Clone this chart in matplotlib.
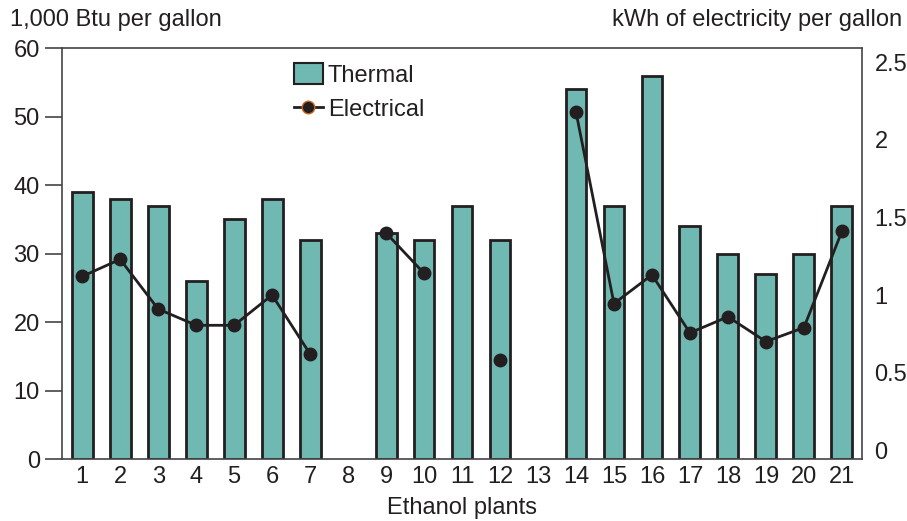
import numpy as np
from matplotlib import pyplot as plt
from matplotlib.lines import Line2D
from matplotlib.patches import Patch

plt.rcParams['font.family'] = ['Liberation Sans', 'DejaVu Sans']

# plants 1..21, plants 8 and 13 have no data; plant 11 has no electrical value
plants = list(range(1, 22))
thermal = [39, 38, 37, 26, 35, 38, 32, np.nan, 33, 32, 37, 32, np.nan, 54, 37, 56, 34, 30, 27, 30, 37]
electrical = [1.12, 1.23, 0.91, 0.805, 0.805, 1.0, 0.62, np.nan, 1.40, 1.14, np.nan, 0.58, np.nan,
              2.18, 0.945, 1.13, 0.756, 0.86, 0.70, 0.79, 1.41]

left_ticks = [0, 10, 20, 30, 40, 50, 60]
right_ticks = [0, 0.5, 1, 1.5, 2, 2.5]
right_labels = ["0", "0.5", "1", "1.5", "2", "2.5"]

teal = "#6fb9b2"
ink = "#231f20"
fs = 17

x = np.array(plants)
th = np.array(thermal, dtype=float)
el = np.array(electrical, dtype=float)

fig = plt.figure(figsize=(9.07, 5.21), dpi=100)
ax = fig.add_axes([0.0684, 0.1185, 0.882, 0.789])

has_bar = ~np.isnan(th)
ax.bar(x[has_bar], th[has_bar], width=0.55, color=teal, edgecolor=ink, linewidth=2, zorder=2)

ax.set_xlim(0.47, 21.53)
ax.set_ylim(0, 60)
ax.set_yticks(left_ticks)
ax.set_yticklabels([str(t) for t in left_ticks], fontsize=fs, color=ink)
ax.tick_params(axis='y', direction='out', length=12, width=1.2, color="#444444", pad=4)
ax.set_xticks(plants)
ax.set_xticklabels([str(p) for p in plants], fontsize=fs, color=ink)
ax.tick_params(axis='x', length=0, pad=5)
for s in ax.spines.values():
    s.set_color("#444444")
    s.set_linewidth(1.2)
ax.set_xlabel("Ethanol plants", fontsize=fs, color=ink, labelpad=6)

ax2 = ax.twinx()
ax2.plot(x, el, color=ink, linewidth=2, marker='o', markersize=9,
         markerfacecolor=ink, markeredgecolor=ink, zorder=3)
ax2.set_ylim(-0.058, 2.59)
ax2.set_yticks(right_ticks)
ax2.set_yticklabels(right_labels, fontsize=fs, color=ink)
ax2.tick_params(axis='y', length=0, pad=9)
for s in ax2.spines.values():
    s.set_visible(False)
ax.set_zorder(1)
ax2.set_zorder(2)
ax2.patch.set_visible(False)

fig.text(0.011, 0.962, "1,000 Btu per gallon", fontsize=fs, color=ink, va='center', ha='left')
fig.text(0.995, 0.962, "kWh of electricity per gallon", fontsize=fs, color=ink, va='center', ha='right')

handles = [Patch(facecolor=teal, edgecolor=ink, linewidth=1.5),
           Line2D([0], [0], color=ink, linewidth=2, marker='o', markersize=9,
                  markerfacecolor=ink, markeredgecolor="#c8641e")]
ax2.legend(handles, ["Thermal", "Electrical"], loc='upper left', bbox_to_anchor=(0.263, 1.015),
           frameon=False, fontsize=fs, handlelength=1.25, handleheight=1.0,
           handletextpad=0.2, labelspacing=0.45, labelcolor=ink)

fig.savefig("out.png", dpi=100)
